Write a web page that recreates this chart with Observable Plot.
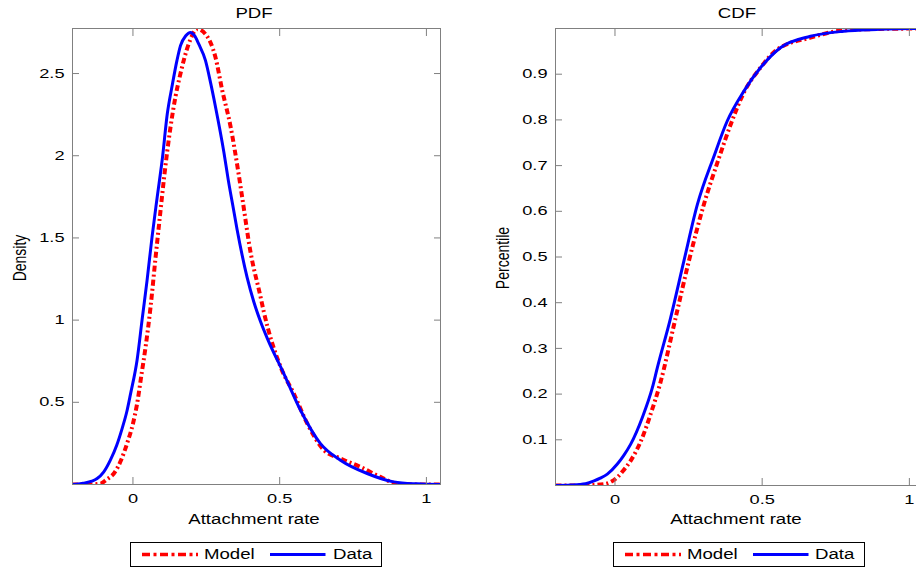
<!DOCTYPE html>
<html><head><meta charset="utf-8">
<script src="https://cdn.jsdelivr.net/npm/d3@7"></script>
<script src="https://cdn.jsdelivr.net/npm/@observablehq/plot@0.6"></script>
<style>
html,body{margin:0;padding:0;background:#fff;overflow:hidden;width:916px;height:568px}
#wrap{position:relative;width:916px;height:568px;overflow:hidden;font-family:"Liberation Sans",Arial,Helvetica,sans-serif;color:#000;background:#fff}
.t{position:absolute;font-size:14px;line-height:14px;white-space:nowrap}
.c{transform:translateX(-50%) scaleX(1.33)}
.r{transform:translate(-50%,-50%) rotate(-90deg) scaleY(1.33)}
.lg{position:absolute;border:1px solid #000;box-sizing:border-box;width:252px;height:25px;background:#fff}
.lg svg{position:absolute;left:0;top:0}
.lt{position:absolute;top:4px;font-size:14px;line-height:14px;transform-origin:0 50%;transform:scaleX(1.33);white-space:nowrap}
</style></head><body><div id="wrap"></div>
<script>
// ---- data ----
const xTicks = [0, 0.5, 1];
const pdfYTicks = [0.5, 1, 1.5, 2, 2.5];
const cdfYTicks = [0.1, 0.2, 0.3, 0.4, 0.5, 0.6, 0.7, 0.8, 0.9];

const pdfDataX = [-0.206, -0.17, -0.14, -0.122, -0.1, -0.077, -0.055, -0.037, -0.02, -0.008, 0.014, 0.031, 0.048, 0.065, 0.082, 0.1, 0.117, 0.134, 0.15, 0.162, 0.18, 0.196, 0.21, 0.224, 0.247, 0.265, 0.281, 0.31, 0.325, 0.34, 0.355, 0.389, 0.412, 0.435, 0.46, 0.514, 0.571, 0.639, 0.707, 0.798, 0.889, 0.969, 1.048];
const pdfDataY = [0.0, 0.008, 0.02, 0.036, 0.075, 0.148, 0.24, 0.34, 0.45, 0.553, 0.756, 1.0, 1.24, 1.505, 1.74, 1.98, 2.255, 2.43, 2.58, 2.67, 2.73, 2.75, 2.73, 2.68, 2.58, 2.44, 2.3, 2.02, 1.85, 1.7, 1.55, 1.26, 1.11, 0.99, 0.88, 0.675, 0.452, 0.249, 0.148, 0.067, 0.016, 0.004, 0.0];

const pdfModelX = [-0.206, -0.15, -0.111, -0.09, -0.065, -0.04, -0.02, 0.0, 0.014, 0.03, 0.043, 0.06, 0.077, 0.094, 0.105, 0.128, 0.145, 0.162, 0.19, 0.219, 0.247, 0.281, 0.304, 0.333, 0.36, 0.372, 0.40, 0.435, 0.446, 0.503, 0.548, 0.594, 0.651, 0.707, 0.775, 0.843, 0.90, 0.95, 1.048];
const pdfModelY = [0, 0.0, 0.005, 0.03, 0.067, 0.15, 0.25, 0.37, 0.49, 0.68, 0.836, 1.08, 1.38, 1.667, 1.85, 2.174, 2.36, 2.5, 2.68, 2.77, 2.74, 2.6, 2.4, 2.174, 1.89, 1.75, 1.42, 1.14, 1.05, 0.715, 0.553, 0.371, 0.209, 0.158, 0.107, 0.046, 0.005, 0.0, 0.0];

const cdfDataX = [-0.202, -0.15, -0.1, -0.071, -0.05, -0.026, 0.008, 0.03, 0.053, 0.093, 0.127, 0.144, 0.189, 0.234, 0.28, 0.336, 0.381, 0.438, 0.494, 0.562, 0.664, 0.777, 0.89, 1.0, 1.048];
const cdfDataY = [0, 0.001, 0.004, 0.01, 0.016, 0.025, 0.047, 0.066, 0.09, 0.149, 0.214, 0.258, 0.367, 0.491, 0.615, 0.72, 0.797, 0.863, 0.914, 0.958, 0.983, 0.994, 0.998, 1.0, 1.0];

const cdfModelX = [-0.202, -0.1, -0.037, 0.008, 0.03, 0.053, 0.093, 0.121, 0.153, 0.206, 0.251, 0.302, 0.355, 0.393, 0.438, 0.494, 0.551, 0.664, 0.777, 0.9, 1.048];
const cdfModelY = [0, 0.0005, 0.003, 0.018, 0.034, 0.054, 0.105, 0.156, 0.222, 0.367, 0.491, 0.615, 0.72, 0.79, 0.86, 0.914, 0.954, 0.98, 0.996, 0.999, 1.0];

// ---- drawing ----
const FONT = '"Liberation Sans", Arial, Helvetica, sans-serif';
const fmt = d => String(d);
const GRAY = "#808080";

function panel(o) {
  const model = o.mx.map((x, i) => ({x, y: o.my[i]}));
  const data = o.dx.map((x, i) => ({x, y: o.dy[i]}));
  return Plot.plot({
    width: o.width, height: 568,
    marginTop: 28, marginBottom: o.mb, marginLeft: o.ml, marginRight: o.mr,
    x: {domain: o.xDomain}, y: {domain: o.yDomain},
    style: {fontFamily: FONT, fontSize: "13px", color: "#000", background: "transparent", overflow: "visible"},
    marks: [
      Plot.line(model, {x: "x", y: "y", curve: "monotone-x", stroke: "#ff0000", strokeWidth: 4, strokeDasharray: "6,3,2,3", strokeLinecap: "butt", clip: true}),
      Plot.line(data, {x: "x", y: "y", curve: "monotone-x", stroke: "#0000ff", strokeWidth: 3, clip: true}),
      Plot.axisX({anchor: "bottom", ticks: xTicks, tickSize: -7, tickPadding: 16, tickFormat: fmt, stroke: GRAY, fill: "#000", label: null}),
      Plot.axisX({anchor: "top", ticks: xTicks, tickSize: -7, tickFormat: () => "", stroke: GRAY, label: null}),
      Plot.axisY({anchor: "left", ticks: o.yTicks, tickSize: -7, tickPadding: 15, tickFormat: fmt, stroke: GRAY, fill: "#000", label: null}),
      Plot.axisY({anchor: "right", ticks: o.yTicks, tickSize: -7, tickFormat: () => "", stroke: GRAY, label: null}),
      Plot.frame({stroke: GRAY})
    ]
  });
}

function stretch(svg, k) {
  svg.querySelectorAll("text").forEach(t => {
    const len = t.getComputedTextLength();
    if (len > 0) {
      t.setAttribute("textLength", (len * k).toFixed(2));
      t.setAttribute("lengthAdjust", "spacingAndGlyphs");
    }
  });
}

const wrap = document.getElementById("wrap");

const left = panel({width: 458, ml: 72, mr: 18, mb: 84, xDomain: [-0.206, 1.048], yDomain: [0, 2.774], yTicks: pdfYTicks,
  mx: pdfModelX, my: pdfModelY, dx: pdfDataX, dy: pdfDataY});
left.style.position = "absolute"; left.style.left = "0px"; left.style.top = "0px";
wrap.appendChild(left);
stretch(left, 1.4);

const right = panel({width: 476, ml: 97, mr: 11, mb: 83, xDomain: [-0.202, 1.048], yDomain: [0, 1], yTicks: cdfYTicks,
  mx: cdfModelX, my: cdfModelY, dx: cdfDataX, dy: cdfDataY});
right.style.position = "absolute"; right.style.left = "458px"; right.style.top = "0px";
wrap.appendChild(right);
stretch(right, 1.4);

function label(text, cls, x, y) {
  const d = document.createElement("div");
  d.className = "t " + cls;
  d.textContent = text;
  d.style.left = x + "px"; d.style.top = y + "px";
  wrap.appendChild(d);
}
label("PDF", "c", 254, 5.5);
label("CDF", "c", 737, 5.5);
label("Attachment rate", "c", 253.5, 511.5);
label("Attachment rate", "c", 735.5, 511.5);
label("Density", "r", 18.5, 258);
label("Percentile", "r", 502, 258);

function legend(x) {
  const box = document.createElement("div");
  box.className = "lg";
  box.style.left = x + "px"; box.style.top = "542px";
  box.innerHTML =
    '<svg width="252" height="24">' +
    '<line x1="11" y1="11.5" x2="67" y2="11.5" stroke="#ff0000" stroke-width="3.5" stroke-dasharray="8,3.5,3,3.5"/>' +
    '<line x1="139" y1="11.5" x2="194.5" y2="11.5" stroke="#0000ff" stroke-width="3"/>' +
    '</svg>' +
    '<div class="lt" style="left:73px">Model</div>' +
    '<div class="lt" style="left:201.5px">Data</div>';
  wrap.appendChild(box);
}
legend(130);
legend(612.5);
</script></body></html>
